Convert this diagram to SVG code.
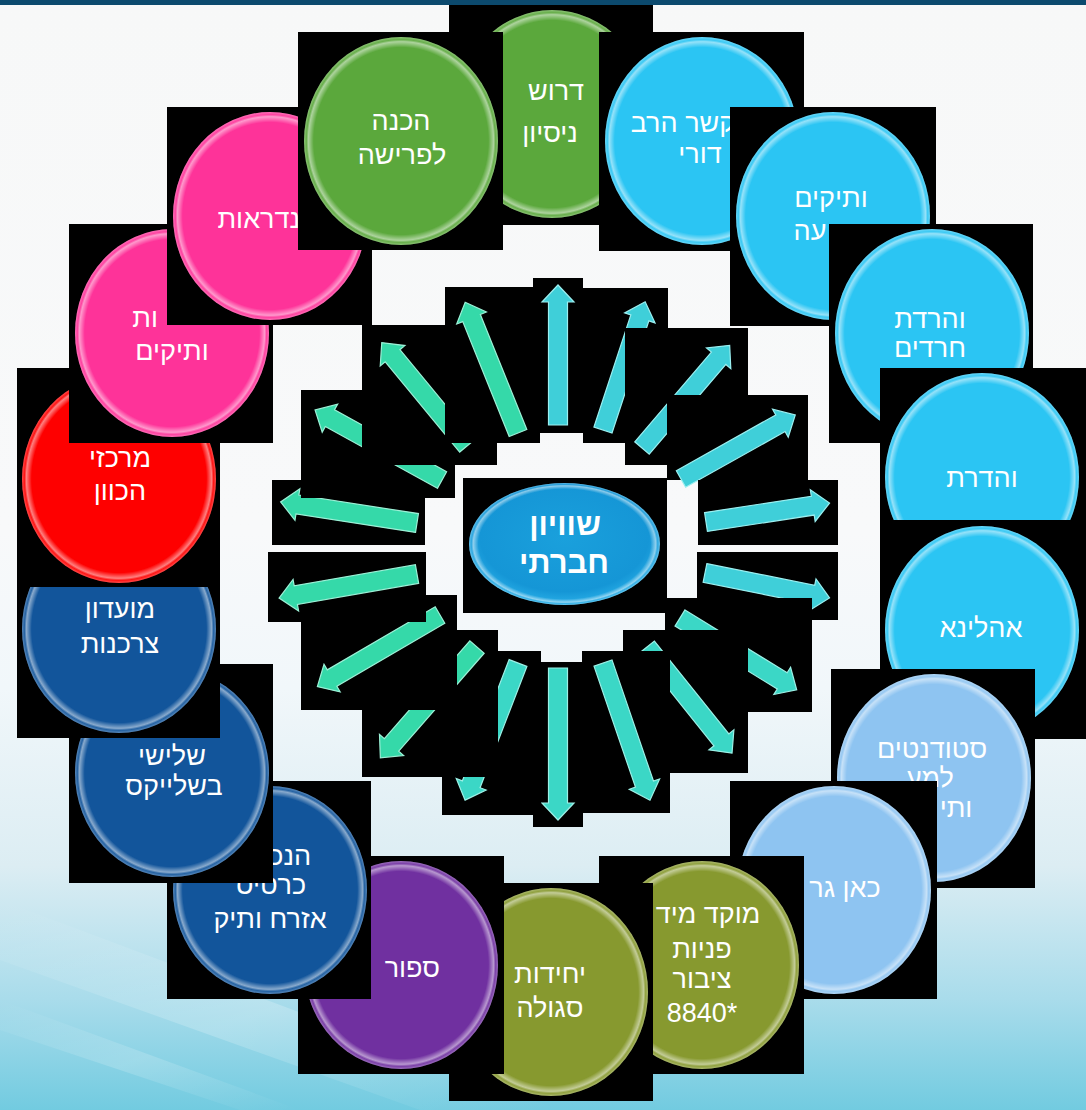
<svg xmlns="http://www.w3.org/2000/svg" width="1086" height="1110" viewBox="0 0 1086 1110">
<defs>
<linearGradient id="bg" x1="0" y1="0" x2="0" y2="1">
<stop offset="0" stop-color="#f7f8f8"/>
<stop offset="0.48" stop-color="#f8f9fa"/>
<stop offset="0.62" stop-color="#f1f7fa"/>
<stop offset="0.78" stop-color="#dcedf3"/>
<stop offset="0.9" stop-color="#a9dceb"/>
<stop offset="1" stop-color="#72cbe0"/>
</linearGradient>
<linearGradient id="streak" x1="0" y1="0" x2="1" y2="1">
<stop offset="0" stop-color="#ffffff" stop-opacity="0"/>
<stop offset="0.5" stop-color="#ffffff" stop-opacity="0.35"/>
<stop offset="1" stop-color="#ffffff" stop-opacity="0"/>
</linearGradient>
<radialGradient id="gloss" cx="0.5" cy="0.5" r="0.5">
<stop offset="0.9" stop-color="#ffffff" stop-opacity="0"/>
<stop offset="0.955" stop-color="#ffffff" stop-opacity="0.5"/>
<stop offset="0.975" stop-color="#ffffff" stop-opacity="0.08"/>
<stop offset="1" stop-color="#ffffff" stop-opacity="0.3"/>
</radialGradient>
<radialGradient id="centerFill" cx="0.5" cy="0.45" r="0.55">
<stop offset="0" stop-color="#1aa0dc"/>
<stop offset="0.8" stop-color="#1596d6"/>
<stop offset="1" stop-color="#2ab0e8"/>
</radialGradient>
</defs>
<style>
.bk{fill:#000}
.t{fill:#fff;font-family:"Liberation Sans","DejaVu Sans",sans-serif;font-size:27px;text-anchor:middle}
.te{fill:#fff;font-family:"Liberation Sans","DejaVu Sans",sans-serif;font-size:27px;text-anchor:end}
.tc{fill:#fff;font-family:"Liberation Sans","DejaVu Sans",sans-serif;font-size:31px;font-weight:bold;text-anchor:middle}
.gl{fill:url(#gloss)}
.green{fill:#5ba83c}
.blue{fill:#2bc5f3}
.pale{fill:#8ec4f1}
.olive{fill:#87992f}
.purple{fill:#7030a0}
.navy{fill:#12559b}
.red{fill:#fe0000}
.pink{fill:#fe3399}
.aC{fill:#3fcfd9;stroke:#9beff0;stroke-width:1.2}
.aT{fill:#3bd7c6;stroke:#9cf0e6;stroke-width:1.2}
.aM{fill:#35d9a9;stroke:#9cf0d6;stroke-width:1.2}
</style>
<rect x="0" y="0" width="1086" height="1110" fill="url(#bg)"/>
<polygon points="0,900 0,960 420,1110 560,1110" fill="url(#streak)" opacity="0.6"/>
<polygon points="0,1000 0,1030 240,1110 300,1110" fill="url(#streak)" opacity="0.5"/>
<rect x="0" y="0" width="1086" height="5" fill="#0c4a6e"/>

<g id="connectors">
<g id="arrow-0"><rect class="bk" x="533" y="278" width="50" height="155"/><g transform="translate(558,425) rotate(-90)"><polygon class="aC" points="0,-9.5 123,-9.5 123,-16 140,0 123,16 123,9.5 0,9.5"/></g></g>
<g id="arrow-1"><rect class="bk" x="583" y="288" width="85" height="155"/><g transform="translate(603,430) rotate(-71.8)"><polygon class="aC" points="0,-9.5 118,-9.5 118,-16 135,0 118,16 118,9.5 0,9.5"/></g></g>
<g id="arrow-2"><rect class="bk" x="625" y="328" width="123" height="137"/><g transform="translate(642,448) rotate(-49.5)"><polygon class="aC" points="0,-9.5 118,-9.5 118,-16 135,0 118,16 118,9.5 0,9.5"/></g></g>
<g id="arrow-3"><rect class="bk" x="667" y="395" width="141" height="85"/><g transform="translate(681,479) rotate(-29.3)"><polygon class="aC" points="0,-9.5 114,-9.5 114,-16 131,0 114,16 114,9.5 0,9.5"/></g></g>
<g id="arrow-4"><rect class="bk" x="698" y="480" width="140" height="65"/><g transform="translate(706,522) rotate(-8.7)"><polygon class="aC" points="0,-9.5 108,-9.5 108,-16 125,0 108,16 108,9.5 0,9.5"/></g></g>
<g id="arrow-5"><rect class="bk" x="697" y="552" width="141" height="68"/><g transform="translate(705,573) rotate(11.3)"><polygon class="aC" points="0,-9.5 110,-9.5 110,-16 127,0 110,16 110,9.5 0,9.5"/></g></g>
<g id="arrow-6"><rect class="bk" x="665" y="598" width="147" height="114"/><g transform="translate(680,618) rotate(31.6)"><polygon class="aT" points="0,-9.5 120,-9.5 120,-16 137,0 120,16 120,9.5 0,9.5"/></g></g>
<g id="arrow-7"><rect class="bk" x="623" y="630" width="125" height="143"/><g transform="translate(647,647) rotate(51.3)"><polygon class="aT" points="0,-9.5 119,-9.5 119,-16 136,0 119,16 119,9.5 0,9.5"/></g></g>
<g id="arrow-8"><rect class="bk" x="582" y="651" width="88" height="162"/><g transform="translate(603,663) rotate(71.1)"><polygon class="aT" points="0,-9.5 128,-9.5 128,-16 145,0 128,16 128,9.5 0,9.5"/></g></g>
<g id="arrow-9"><rect class="bk" x="533" y="662" width="50" height="165"/><g transform="translate(558,668) rotate(90)"><polygon class="aT" points="0,-9.5 135,-9.5 135,-16 152,0 135,16 135,9.5 0,9.5"/></g></g>
<g id="arrow-10"><rect class="bk" x="442" y="651" width="99" height="164"/><g transform="translate(518,663) rotate(111.1)"><polygon class="aT" points="0,-9.5 130,-9.5 130,-16 147,0 130,16 130,9.5 0,9.5"/></g></g>
<g id="arrow-11"><rect class="bk" x="362" y="630" width="136" height="147"/><g transform="translate(477,647) rotate(131.1)"><polygon class="aM" points="0,-9.5 130,-9.5 130,-16 147,0 130,16 130,9.5 0,9.5"/></g></g>
<g id="arrow-12"><rect class="bk" x="301" y="595" width="156" height="115"/><g transform="translate(440,615) rotate(149.7)"><polygon class="aM" points="0,-9.5 125,-9.5 125,-16 142,0 125,16 125,9.5 0,9.5"/></g></g>
<g id="arrow-13"><rect class="bk" x="268" y="552" width="158" height="70"/><g transform="translate(417,574) rotate(170.1)"><polygon class="aM" points="0,-9.5 123,-9.5 123,-16 140,0 123,16 123,9.5 0,9.5"/></g></g>
<g id="arrow-14"><rect class="bk" x="272" y="480" width="153" height="65"/><g transform="translate(417,523) rotate(188.8)"><polygon class="aM" points="0,-9.5 121,-9.5 121,-16 138,0 121,16 121,9.5 0,9.5"/></g></g>
<g id="arrow-15"><rect class="bk" x="301" y="390" width="154" height="108"/><g transform="translate(442,480) rotate(208.9)"><polygon class="aM" points="0,-9.5 128,-9.5 128,-16 145,0 128,16 128,9.5 0,9.5"/></g></g>
<g id="arrow-16"><rect class="bk" x="362" y="325" width="135" height="140"/><g transform="translate(467,446) rotate(230.5)"><polygon class="aM" points="0,-9.5 117,-9.5 117,-16 134,0 117,16 117,9.5 0,9.5"/></g></g>
<g id="arrow-17"><rect class="bk" x="445" y="287" width="95" height="156"/><g transform="translate(518,433) rotate(248)"><polygon class="aM" points="0,-9.5 124,-9.5 124,-16 141,0 124,16 124,9.5 0,9.5"/></g></g>
</g>

<g id="node-center">
<rect class="bk" x="463" y="478" width="204" height="135"/>
<ellipse cx="564.5" cy="544" rx="95.5" ry="61" fill="url(#centerFill)"/>
<ellipse class="gl" cx="564.5" cy="544" rx="95.5" ry="61"/>
<text class="tc" x="565" y="535">שוויון</text>
<text class="tc" x="564" y="573">חברתי</text>
</g>

<g id="node-drush">
<rect class="bk" x="449" y="5" width="204" height="220"/>
<ellipse class="green" cx="552" cy="114" rx="97" ry="104"/><ellipse class="gl" cx="552" cy="114" rx="97" ry="104"/>
<text class="t" x="556" y="100">דרוש</text>
<text class="t" x="550" y="142">ניסיון</text>
</g>
<g id="node-kesher">
<rect class="bk" x="599" y="32" width="205" height="219"/>
<ellipse class="blue" cx="702" cy="141" rx="97" ry="104"/><ellipse class="gl" cx="702" cy="141" rx="97" ry="104"/>
<text class="t" x="683" y="132">קשר הרב</text>
<text class="t" x="700" y="163">דורי</text>
</g>
<g id="node-vatikim1">
<rect class="bk" x="730" y="107" width="206" height="219"/>
<ellipse class="blue" cx="833" cy="216" rx="97" ry="104"/><ellipse class="gl" cx="833" cy="216" rx="97" ry="104"/>
<text class="t" x="831" y="207">ותיקים</text>
<text class="t" x="810" y="240">עה</text>
</g>
<g id="node-haredim">
<rect class="bk" x="829" y="224" width="204" height="219"/>
<ellipse class="blue" cx="932" cy="333" rx="97" ry="104"/><ellipse class="gl" cx="932" cy="333" rx="97" ry="104"/>
<text class="t" x="930" y="328">והרדת</text>
<text class="t" x="930" y="357">חרדים</text>
</g>
<g id="node-vehadarta">
<rect class="bk" x="880" y="368" width="206" height="219"/>
<ellipse class="blue" cx="982" cy="477" rx="97" ry="104"/><ellipse class="gl" cx="982" cy="477" rx="97" ry="104"/>
<text class="t" x="982" y="487">והדרת</text>
</g>
<g id="node-ahalina">
<rect class="bk" x="880" y="520" width="206" height="219"/>
<ellipse class="blue" cx="982" cy="630" rx="97" ry="104"/><ellipse class="gl" cx="982" cy="630" rx="97" ry="104"/>
<text class="t" x="981" y="637">אהלינא</text>
</g>
<g id="node-students">
<rect class="bk" x="831" y="669" width="204" height="219"/>
<ellipse class="pale" cx="934" cy="778" rx="97" ry="104"/><ellipse class="gl" cx="934" cy="778" rx="97" ry="104"/>
<text class="t" x="932" y="758">סטודנטים</text>
<text class="t" x="930" y="787">למע</text>
<text class="t" x="956" y="817">ותי</text>
</g>
<g id="node-kan-garim">
<rect class="bk" x="730" y="781" width="207" height="218"/>
<ellipse class="pale" cx="834" cy="890" rx="97" ry="104"/><ellipse class="gl" cx="834" cy="890" rx="97" ry="104"/>
<text class="t" x="845" y="897">כאן גר</text>
</g>
<g id="node-moked">
<rect class="bk" x="599" y="856" width="205" height="218"/>
<ellipse class="olive" cx="702" cy="965" rx="97" ry="104"/><ellipse class="gl" cx="702" cy="965" rx="97" ry="104"/>
<text class="t" x="708" y="923">מוקד מיד</text>
<text class="t" x="702" y="958">פניות</text>
<text class="t" x="702" y="988">ציבור</text>
<text class="t" x="702" y="1022">8840*</text>
</g>
<g id="node-yehidot">
<rect class="bk" x="449" y="883" width="204" height="218"/>
<ellipse class="olive" cx="551" cy="992" rx="97" ry="104"/><ellipse class="gl" cx="551" cy="992" rx="97" ry="104"/>
<text class="t" x="550" y="983">יחידות</text>
<text class="t" x="550" y="1017">סגולה</text>
</g>
<g id="node-sport">
<rect class="bk" x="298" y="856" width="206" height="218"/>
<ellipse class="purple" cx="401" cy="965" rx="97" ry="104"/><ellipse class="gl" cx="401" cy="965" rx="97" ry="104"/>
<text class="te" x="440" y="977">ספור</text>
</g>
<g id="node-kartis">
<rect class="bk" x="167" y="781" width="204" height="218"/>
<ellipse class="navy" cx="270" cy="890" rx="97" ry="104"/><ellipse class="gl" cx="270" cy="890" rx="97" ry="104"/>
<text class="te" x="311" y="865">הנכ</text>
<text class="t" x="271" y="894">כרטיס</text>
<text class="t" x="270" y="928">אזרח ותיק</text>
</g>
<g id="node-shlishi">
<rect class="bk" x="69" y="664" width="204" height="219"/>
<ellipse class="navy" cx="172" cy="773" rx="97" ry="104"/><ellipse class="gl" cx="172" cy="773" rx="97" ry="104"/>
<text class="t" x="172" y="765">שלישי</text>
<text class="t" x="174" y="795">בשלייקס</text>
</g>
<g id="node-moadon">
<rect class="bk" x="17" y="520" width="203" height="218"/>
<ellipse class="navy" cx="119" cy="629" rx="97" ry="104"/><ellipse class="gl" cx="119" cy="629" rx="97" ry="104"/>
<text class="t" x="120" y="618">מועדון</text>
<text class="t" x="120" y="653">צרכנות</text>
</g>
<g id="node-merkazi">
<rect class="bk" x="17" y="368" width="203" height="219"/>
<ellipse class="red" cx="119" cy="479" rx="97" ry="104"/><ellipse class="gl" cx="119" cy="479" rx="97" ry="104"/>
<text class="t" x="120" y="467">מרכזי</text>
<text class="t" x="120" y="500">הכוון</text>
</g>
<g id="node-vatikim2">
<rect class="bk" x="69" y="224" width="204" height="219"/>
<ellipse class="pink" cx="172" cy="333" rx="97" ry="104"/><ellipse class="gl" cx="172" cy="333" rx="97" ry="104"/>
<text class="te" x="158" y="327">ות</text>
<text class="t" x="172" y="360">ותיקים</text>
</g>
<g id="node-andraot">
<rect class="bk" x="167" y="107" width="205" height="218"/>
<ellipse class="pink" cx="270" cy="216" rx="97" ry="104"/><ellipse class="gl" cx="270" cy="216" rx="97" ry="104"/>
<text class="te" x="300" y="228">נדראות</text>
</g>
<g id="node-hachana">
<rect class="bk" x="298" y="32" width="205" height="218"/>
<ellipse class="green" cx="401" cy="141" rx="97" ry="104"/><ellipse class="gl" cx="401" cy="141" rx="97" ry="104"/>
<text class="t" x="401" y="130">הכנה</text>
<text class="t" x="402" y="164">לפרישה</text>
</g>
</svg>
